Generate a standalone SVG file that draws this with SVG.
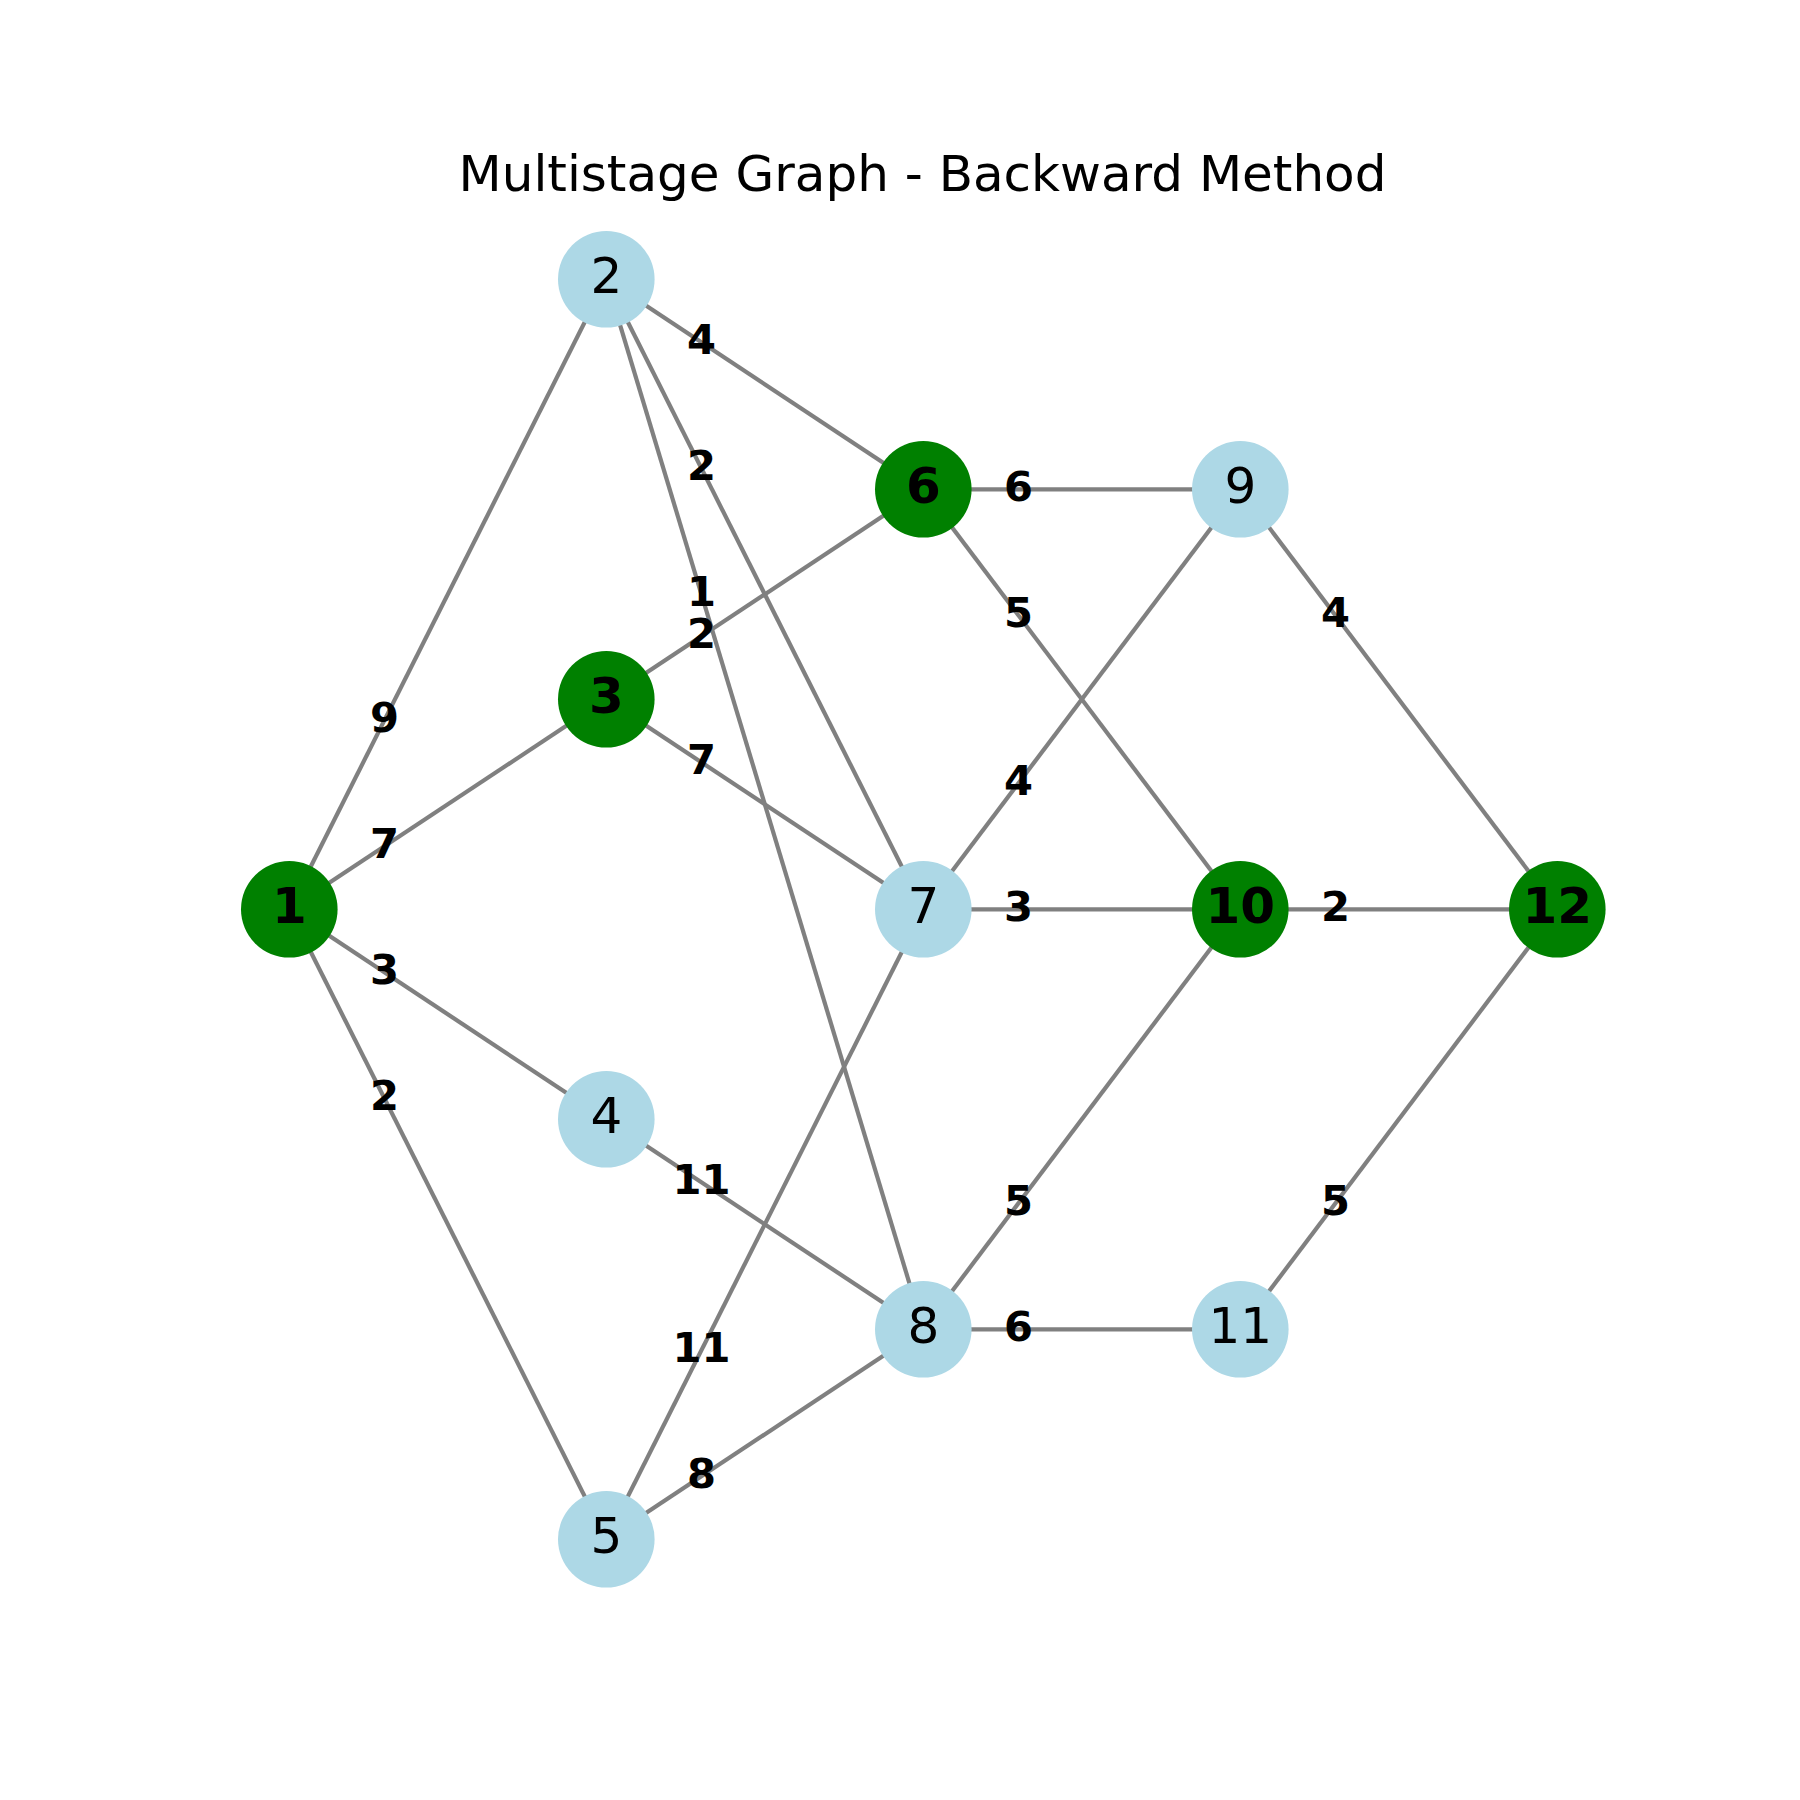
<svg xmlns="http://www.w3.org/2000/svg" width="1800" height="1800" viewBox="0 0 1800 1800">
<style>
.e{stroke:#808080;stroke-width:4.2;fill:none}
.lb{fill:#add8e6}
.gr{fill:#008000}
.nt{font-family:"DejaVu Sans",sans-serif;font-size:50px;text-anchor:middle;fill:#000}
.bt{font-weight:bold}
.el{font-family:"DejaVu Sans",sans-serif;font-size:41.7px;font-weight:bold;text-anchor:middle;fill:#000}
.title{font-family:"DejaVu Sans",sans-serif;font-size:50px;text-anchor:middle;fill:#000}
</style>
<rect width="1800" height="1800" fill="#fff"/>
<text class="title" x="922.5" y="191">Multistage Graph - Backward Method</text>
<g id="edges">
<line class="e" x1="289.3" y1="909.3" x2="606.3" y2="279.3"/>
<line class="e" x1="289.3" y1="909.3" x2="606.3" y2="699.3"/>
<line class="e" x1="289.3" y1="909.3" x2="606.3" y2="1119.3"/>
<line class="e" x1="289.3" y1="909.3" x2="606.3" y2="1539.3"/>
<line class="e" x1="606.3" y1="279.3" x2="923.3" y2="489.3"/>
<line class="e" x1="606.3" y1="279.3" x2="923.3" y2="909.3"/>
<line class="e" x1="606.3" y1="279.3" x2="923.3" y2="1329.3"/>
<line class="e" x1="606.3" y1="699.3" x2="923.3" y2="489.3"/>
<line class="e" x1="606.3" y1="699.3" x2="923.3" y2="909.3"/>
<line class="e" x1="606.3" y1="1119.3" x2="923.3" y2="1329.3"/>
<line class="e" x1="606.3" y1="1539.3" x2="923.3" y2="909.3"/>
<line class="e" x1="606.3" y1="1539.3" x2="923.3" y2="1329.3"/>
<line class="e" x1="923.3" y1="489.3" x2="1240.3" y2="489.3"/>
<line class="e" x1="923.3" y1="489.3" x2="1240.3" y2="909.3"/>
<line class="e" x1="923.3" y1="909.3" x2="1240.3" y2="489.3"/>
<line class="e" x1="923.3" y1="909.3" x2="1240.3" y2="909.3"/>
<line class="e" x1="923.3" y1="1329.3" x2="1240.3" y2="909.3"/>
<line class="e" x1="923.3" y1="1329.3" x2="1240.3" y2="1329.3"/>
<line class="e" x1="1240.3" y1="489.3" x2="1557.3" y2="909.3"/>
<line class="e" x1="1240.3" y1="909.3" x2="1557.3" y2="909.3"/>
<line class="e" x1="1240.3" y1="1329.3" x2="1557.3" y2="909.3"/>
</g>
<g id="nodes">
<g id="n1"><circle class="gr" cx="289.3" cy="909.3" r="48.3"/><text class="nt bt" x="289.3" y="923.3">1</text></g>
<g id="n2"><circle class="lb" cx="606.3" cy="279.3" r="48.3"/><text class="nt" x="606.3" y="293.3">2</text></g>
<g id="n3"><circle class="gr" cx="606.3" cy="699.3" r="48.3"/><text class="nt bt" x="606.3" y="713.3">3</text></g>
<g id="n4"><circle class="lb" cx="606.3" cy="1119.3" r="48.3"/><text class="nt" x="606.3" y="1133.3">4</text></g>
<g id="n5"><circle class="lb" cx="606.3" cy="1539.3" r="48.3"/><text class="nt" x="606.3" y="1553.3">5</text></g>
<g id="n6"><circle class="gr" cx="923.3" cy="489.3" r="48.3"/><text class="nt bt" x="923.3" y="503.3">6</text></g>
<g id="n7"><circle class="lb" cx="923.3" cy="909.3" r="48.3"/><text class="nt" x="923.3" y="923.3">7</text></g>
<g id="n8"><circle class="lb" cx="923.3" cy="1329.3" r="48.3"/><text class="nt" x="923.3" y="1343.3">8</text></g>
<g id="n9"><circle class="lb" cx="1240.3" cy="489.3" r="48.3"/><text class="nt" x="1240.3" y="503.3">9</text></g>
<g id="n10"><circle class="gr" cx="1240.3" cy="909.3" r="48.3"/><text class="nt bt" x="1240.3" y="923.3">10</text></g>
<g id="n11"><circle class="lb" cx="1240.3" cy="1329.3" r="48.3"/><text class="nt" x="1240.3" y="1343.3">11</text></g>
<g id="n12"><circle class="gr" cx="1557.3" cy="909.3" r="48.3"/><text class="nt bt" x="1557.3" y="923.3">12</text></g>
</g>
<g id="edge-labels">
<text class="el" x="384.4" y="732.3">9</text>
<text class="el" x="384.4" y="858.3">7</text>
<text class="el" x="384.4" y="984.3">3</text>
<text class="el" x="384.4" y="1110.3">2</text>
<text class="el" x="701.4" y="354.3">4</text>
<text class="el" x="701.4" y="480.3">2</text>
<text class="el" x="701.4" y="606.3">1</text>
<text class="el" x="701.4" y="648.3">2</text>
<text class="el" x="701.4" y="774.3">7</text>
<text class="el" x="701.4" y="1194.3">11</text>
<text class="el" x="701.4" y="1362.3">11</text>
<text class="el" x="701.4" y="1488.3">8</text>
<text class="el" x="1018.4" y="501.3">6</text>
<text class="el" x="1018.4" y="627.3">5</text>
<text class="el" x="1018.4" y="795.3">4</text>
<text class="el" x="1018.4" y="921.3">3</text>
<text class="el" x="1018.4" y="1215.3">5</text>
<text class="el" x="1018.4" y="1341.3">6</text>
<text class="el" x="1335.4" y="627.3">4</text>
<text class="el" x="1335.4" y="921.3">2</text>
<text class="el" x="1335.4" y="1215.3">5</text>
</g>
</svg>
